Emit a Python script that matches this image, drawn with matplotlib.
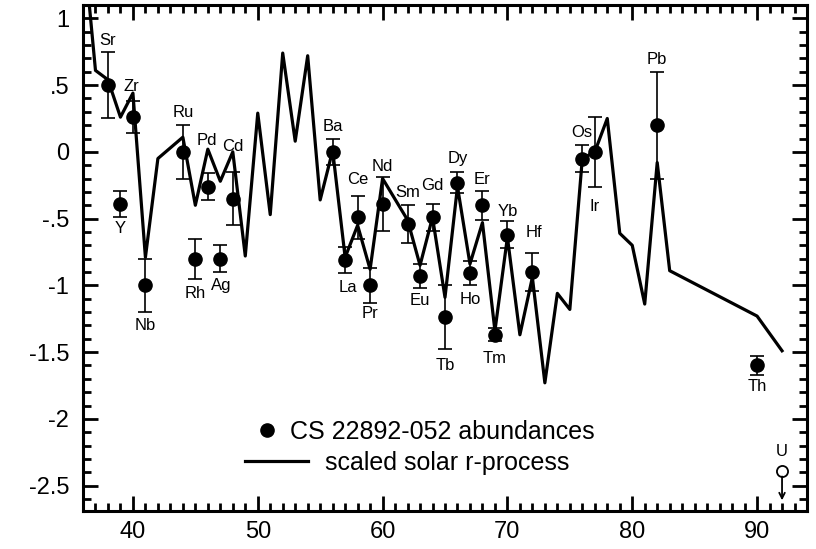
import matplotlib
matplotlib.use('Agg')
import matplotlib.pyplot as plt
from matplotlib.lines import Line2D
from matplotlib.ticker import MultipleLocator, FixedLocator, FixedFormatter

plt.rcParams['font.family'] = ['Liberation Sans', 'DejaVu Sans']

# CS 22892-052 abundances
elem_z = [38, 39, 40, 41, 44, 45, 46, 47, 48, 56, 57, 58, 59, 60, 62, 63, 64,
          65, 66, 67, 68, 69, 70, 72, 76, 77, 82, 90]
elem_name = ['Sr', 'Y', 'Zr', 'Nb', 'Ru', 'Rh', 'Pd', 'Ag', 'Cd', 'Ba', 'La', 'Ce',
             'Pr', 'Nd', 'Sm', 'Eu', 'Gd', 'Tb', 'Dy', 'Ho', 'Er', 'Tm', 'Yb', 'Hf',
             'Os', 'Ir', 'Pb', 'Th']
elem_val = [0.50, -0.39, 0.26, -1.00, 0.00, -0.80, -0.26, -0.80, -0.35, 0.00, -0.81,
            -0.49, -1.00, -0.39, -0.54, -0.93, -0.49, -1.24, -0.23, -0.91, -0.40,
            -1.37, -0.62, -0.90, -0.05, 0.00, 0.20, -1.60]
elem_err = [0.25, 0.10, 0.12, 0.20, 0.20, 0.15, 0.10, 0.10, 0.20, 0.10, 0.10, 0.16,
            0.13, 0.20, 0.14, 0.09, 0.10, 0.24, 0.08, 0.09, 0.11, 0.05, 0.10, 0.14,
            0.10, 0.26, 0.40, 0.07]

# uranium upper limit
u_z = 92
u_val = -2.39
u_arrow = 0.22

# scaled solar r-process curve
solar_z = [36, 37, 38, 39, 40, 41, 42, 44, 45, 46, 47, 48, 49, 50, 51, 52, 53, 54,
           55, 56, 57, 58, 59, 60, 62, 63, 64, 65, 66, 67, 68, 69, 70, 71, 72, 73,
           74, 75, 76, 77, 78, 79, 80, 81, 82, 83, 90, 92]
solar_val = [1.60, 0.61, 0.54, 0.26, 0.44, -0.79, -0.05, 0.11, -0.40, 0.02, -0.22,
             0.00, -0.78, 0.29, -0.47, 0.74, 0.08, 0.72, -0.36, 0.01, -0.79, -0.55,
             -0.88, -0.20, -0.51, -0.85, -0.49, -1.09, -0.26, -0.84, -0.53, -1.34,
             -0.64, -1.37, -0.94, -1.73, -1.06, -1.18, -0.05, 0.00, 0.25, -0.61,
             -0.70, -1.14, -0.08, -0.89, -1.23, -1.49]

# where the element names sit: side of the error bar and gap in pixels
lab_side = ['up', 'down', 'up', 'down', 'up', 'down', 'up', 'down', 'up', 'up', 'down',
            'up', 'down', 'up', 'up', 'down', 'up', 'down', 'up', 'down', 'up', 'down',
            'up', 'up', 'up', 'down', 'up', 'down']
lab_gap = [11, 11, 15, 13, 13, 15, 33, 13, 25, 12, 14, 16, 11, 11, 13, 12, 18, 16, 13,
           14, 11, 17, 10, 21, 13, 20, 12, 12]
lab_dx = [0, 0, -2, 0, 0, 0, -1, 1, 0, 0, 3, 0, 0, 0, 0, 0, 0, 0, 0, 0, 0, 0, 0, 2,
          0, 0, 0, 0]

fig = plt.figure(figsize=(8.16, 5.49), dpi=100)
ax = fig.add_axes([83 / 816, 1 - 511 / 549, 724 / 816, 506 / 549])

ax.plot(solar_z, solar_val, color='black', lw=2.3, zorder=2)
ax.errorbar(elem_z, elem_val, yerr=elem_err, fmt='o', color='black', ms=9.5,
            elinewidth=1.2, capsize=5, capthick=1.2, zorder=3)

for z, n, v, e, s, g, dx in zip(elem_z, elem_name, elem_val, elem_err,
                                lab_side, lab_gap, lab_dx):
    if s == 'up':
        ax.annotate(n, xy=(z, v + e), xytext=(dx * 0.72, g * 0.72),
                    textcoords='offset points', ha='center', va='center', fontsize=12)
    else:
        ax.annotate(n, xy=(z, v - e), xytext=(dx * 0.72, -g * 0.72),
                    textcoords='offset points', ha='center', va='center', fontsize=12)

# U upper limit
ax.plot([u_z], [u_val], 'o', mfc='white', mec='black', ms=8, mew=1.3, zorder=3)
ax.annotate('', xy=(u_z, u_val - u_arrow), xytext=(u_z, u_val),
            arrowprops=dict(arrowstyle='->', color='black', lw=1.3,
                            shrinkA=4, shrinkB=0, mutation_scale=10))
ax.annotate('U', xy=(u_z, u_val), xytext=(0, 19 * 0.72), textcoords='offset points',
            ha='center', va='center', fontsize=12)

ax.set_xlim(36, 94)
ax.set_ylim(-2.69, 1.1)

ax.xaxis.set_major_locator(MultipleLocator(10))
ax.xaxis.set_minor_locator(MultipleLocator(1))
yt = [1, 0.5, 0, -0.5, -1, -1.5, -2, -2.5]
ax.yaxis.set_major_locator(FixedLocator(yt))
ax.yaxis.set_major_formatter(FixedFormatter(['1', '.5', '0', '-.5', '-1', '-1.5', '-2', '-2.5']))
ax.yaxis.set_minor_locator(MultipleLocator(0.1))

ax.tick_params(which='both', direction='in', top=True, right=True, width=2)
ax.tick_params(which='major', length=11, labelsize=17)
ax.tick_params(which='minor', length=6)
ax.tick_params(axis='x', which='major', pad=7)
ax.tick_params(axis='y', which='major', pad=10)
for sp in ax.spines.values():
    sp.set_linewidth(2.2)

# legend, two rows placed separately as in the original
h1 = Line2D([], [], marker='o', ls='none', color='black', ms=9.5)
h2 = Line2D([], [], color='black', lw=2.3)
leg1 = ax.legend([h1], ['CS 22892-052 abundances'], loc='center left',
                 bbox_to_anchor=(0.239, 0.156), frameon=False, fontsize=18,
                 handlelength=0.9, handletextpad=0.45, borderpad=0, borderaxespad=0)
ax.add_artist(leg1)
ax.legend([h2], ['scaled solar r-process'], loc='center left',
          bbox_to_anchor=(0.224, 0.095), frameon=False, fontsize=18,
          handlelength=2.5, handletextpad=0.7, borderpad=0, borderaxespad=0)

fig.savefig('out.png', dpi=100)
